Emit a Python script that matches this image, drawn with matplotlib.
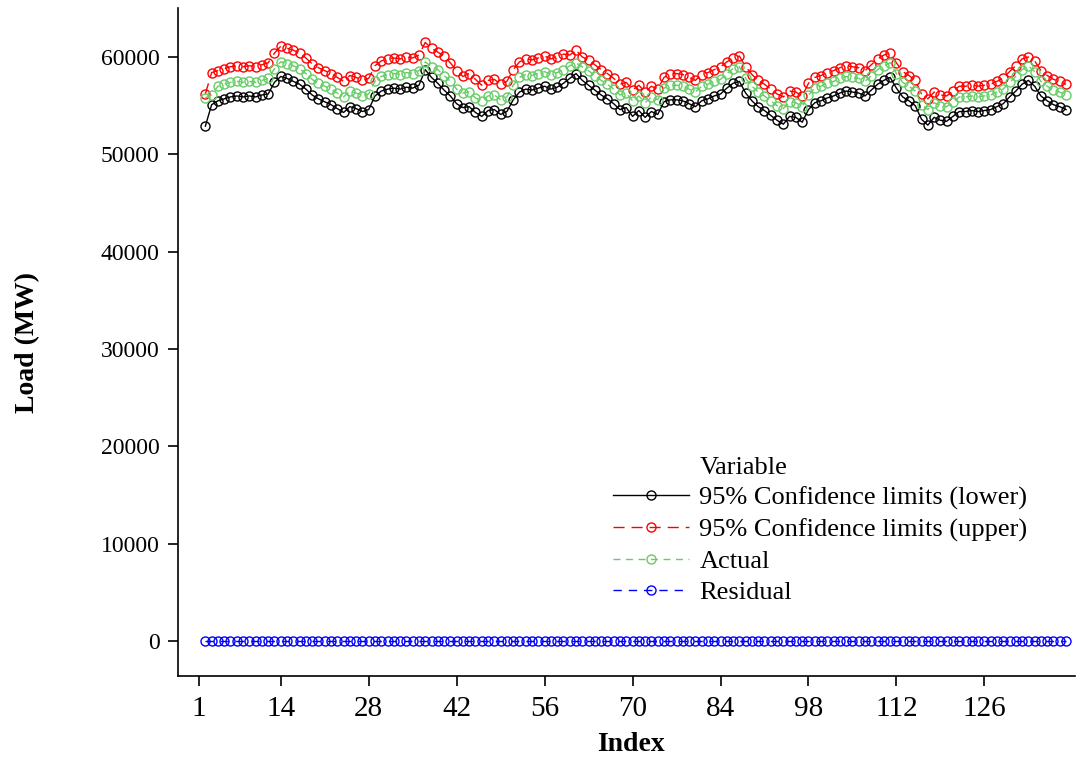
import numpy as np
import matplotlib
matplotlib.use("Agg")
import matplotlib.pyplot as plt

plt.rcParams["font.family"] = ["Liberation Serif", "DejaVu Serif"]

# ---- data ----
index = np.arange(2, 140)

lower = [
    52900, 55100, 55500, 55700, 55900, 56000, 55900, 56000, 55900, 56100,
    56200, 57400, 58000, 57800, 57500, 57200, 56700, 56100, 55700, 55400,
    55100, 54700, 54300, 54900, 54700, 54400, 54600, 56000, 56500, 56700,
    56800, 56700, 56900, 56800, 57100, 58700, 57900, 57300, 56600, 56000,
    55200, 54800, 54900, 54300, 53900, 54500, 54600, 54100, 54400, 55600,
    56400, 56700, 56600, 56800, 57000, 56700, 56900, 57300, 57800, 58300,
    57600, 57100, 56600, 56100, 55700, 55200, 54600, 54800, 53900, 54500,
    53800, 54400, 54100, 55400, 55600, 55600, 55500, 55200, 54900, 55500,
    55700, 56000, 56200, 56800, 57300, 57500, 56300, 55500, 54900, 54500,
    54000, 53500, 53100, 53900, 53800, 53300, 54600, 55300, 55500, 55800,
    56000, 56300, 56500, 56400, 56300, 56000, 56600, 57200, 57600, 57900,
    56800, 55900, 55500, 55000, 53600, 53000, 53800, 53500, 53400, 53900,
    54400, 54400, 54500, 54400, 54500, 54600, 54900, 55200, 55900, 56500,
    57200, 57600, 57000, 56000, 55500, 55100, 54900, 54600,
]

upper = [
    56200, 58400, 58600, 58800, 59000, 59100, 59000, 59100, 59000, 59200,
    59400, 60400, 61100, 60900, 60700, 60400, 59900, 59300, 58900, 58600,
    58300, 57900, 57500, 58100, 57900, 57600, 57800, 59100, 59600, 59800,
    59900, 59800, 60000, 59900, 60200, 61500, 60900, 60500, 60100, 59400,
    58600, 58000, 58300, 57700, 57100, 57600, 57700, 57200, 57500, 58700,
    59500, 59800, 59700, 59900, 60100, 59800, 60000, 60300, 60200, 60700,
    60000, 59700, 59200, 58700, 58300, 57800, 57200, 57400, 56600, 57100,
    56400, 57000, 56700, 57900, 58300, 58300, 58200, 57900, 57600, 58200,
    58400, 58700, 59000, 59500, 59900, 60100, 59000, 58200, 57600, 57200,
    56700, 56200, 55900, 56500, 56400, 56000, 57300, 57900, 58100, 58400,
    58600, 58900, 59100, 59000, 58900, 58600, 59200, 59800, 60200, 60400,
    59400, 58500, 58100, 57600, 56200, 55700, 56400, 56100, 56000, 56500,
    57000, 57000, 57100, 57000, 57100, 57200, 57500, 57800, 58500, 59100,
    59800, 60000, 59600, 58600, 58100, 57700, 57500, 57200,
]

actual = [
    55800, 56100, 57000, 57200, 57400, 57500, 57400, 57500, 57400, 57600,
    57800, 58800, 59500, 59300, 59100, 58800, 58300, 57700, 57300, 57000,
    56700, 56300, 55900, 56500, 56300, 56000, 56200, 57500, 58000, 58200,
    58300, 58200, 58400, 58300, 58600, 59500, 59000, 58700, 58100, 57500,
    56700, 56300, 56400, 55800, 55500, 56000, 56100, 55600, 55900, 57100,
    57900, 58200, 58100, 58300, 58500, 58200, 58400, 58700, 59100, 59400,
    59000, 58600, 58100, 57600, 57200, 56700, 56100, 56300, 55500, 56000,
    55300, 55900, 55600, 56800, 57100, 57100, 57000, 56700, 56400, 57000,
    57200, 57500, 57700, 58300, 58800, 59000, 57800, 57000, 56400, 56000,
    55500, 55000, 54700, 55400, 55300, 54900, 56100, 56800, 57000, 57300,
    57500, 57800, 58000, 57900, 57800, 57500, 58100, 58700, 59100, 59400,
    58300, 57400, 57000, 56500, 55100, 54600, 55300, 55000, 54900, 55400,
    55900, 55900, 56000, 55900, 56000, 56100, 56400, 56700, 57400, 58000,
    58700, 59100, 58500, 57500, 57000, 56600, 56400, 56100,
]

residual = [0] * 138

xticks = [1, 14, 28, 42, 56, 70, 84, 98, 112, 126]
yticks = [0, 10000, 20000, 30000, 40000, 50000, 60000]

# ---- figure ----
fig = plt.figure(figsize=(10.77, 7.58), dpi=100)
ax = fig.add_axes([0.165, 0.108, 0.833, 0.881])

mk = dict(marker="o", markersize=6.5, markerfacecolor="none", markeredgewidth=1.0, linewidth=1.0)

ax.plot(index, lower, color="black", linestyle="-",
        label="95% Confidence limits (lower)", **mk)
ax.plot(index, upper, color="#ff0000", linestyle=(0, (8, 5)),
        label="95% Confidence limits (upper)", **mk)
ax.plot(index, actual, color="#66cc66", linestyle=(0, (5, 4)),
        label="Actual", **mk)
ax.plot(index, residual, color="#0000ff", linestyle=(0, (6, 5)),
        label="Residual", **mk)

ax.set_xlim(-2.4, 140.4)
ax.set_ylim(-3600, 65000)
ax.set_xticks(xticks)
ax.set_yticks(yticks)
ax.tick_params(axis="both", length=7, width=1.2, direction="out", pad=7)
ax.tick_params(axis="x", labelsize=21)
ax.tick_params(axis="y", labelsize=17, pad=6)

for s in ["top", "right"]:
    ax.spines[s].set_visible(False)
for s in ["left", "bottom"]:
    ax.spines[s].set_linewidth(1.2)

ax.set_xlabel("Index", fontsize=20, fontweight="bold")
ax.set_ylabel("Load (MW)", fontsize=20, fontweight="bold")
ax.xaxis.set_label_coords(0.505, -0.083)
ax.yaxis.set_label_coords(-0.153, 0.5)

leg = ax.legend(loc="upper left", bbox_to_anchor=(0.485, 0.285), frameon=False,
                fontsize=19, handlelength=2.9, handletextpad=0.38,
                labelspacing=0.3, borderaxespad=0, borderpad=0)
ax.text(0.582, 0.311, "Variable", transform=ax.transAxes, fontsize=19,
        va="center", ha="left")

fig.savefig("out.png", dpi=100)
